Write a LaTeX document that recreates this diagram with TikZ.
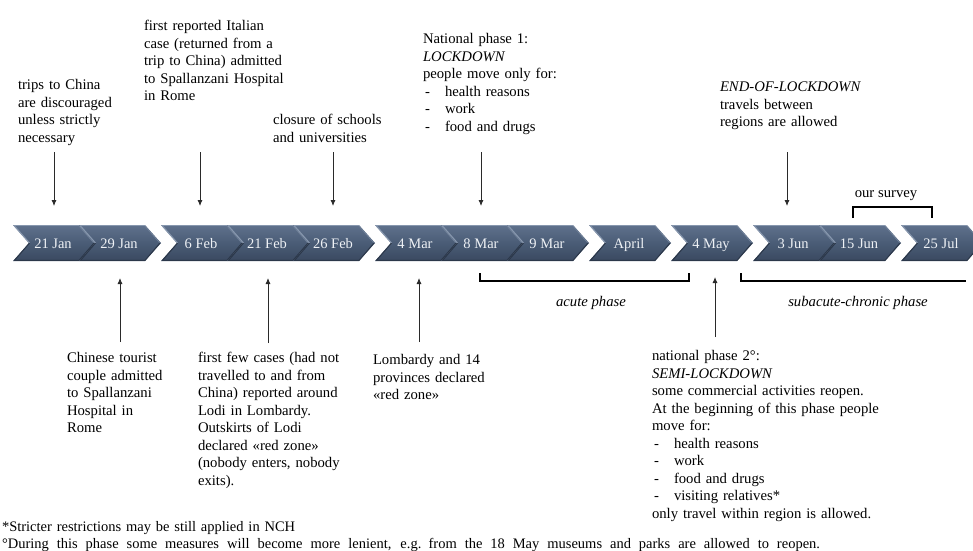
\documentclass[tikz,border=0pt]{standalone}
\usepackage{fontspec}
\setmainfont{Liberation Serif}
\usetikzlibrary{arrows.meta}
\definecolor{chevmid}{HTML}{4A5C76}
\definecolor{chevtop}{HTML}{5F718C}
\definecolor{chevbot}{HTML}{3A4960}
\definecolor{chevlight}{HTML}{8797AE}
\definecolor{chevdark}{HTML}{2C384A}
\definecolor{chevtxt}{HTML}{EEF1F5}
\definecolor{arrowgray}{HTML}{2A2A2A}
\newcommand{\dashitem}{\makebox[22pt][l]{\hspace{2pt}-}}
\newcommand{\mychev}[3]{%
  \path[top color=chevtop, bottom color=chevbot, middle color=chevmid]
    (#1,225) -- (#1+66,225) -- (#1+82,243) -- (#1+66,261) -- (#1,261) -- (#1+16,243) -- cycle;
  \draw[chevlight, line width=1pt] (#1+1,225.6) -- (#1+66,225.6);
  \draw[chevlight, line width=1.1pt] (#1+1.5,226) -- (#1+16.5,243);
  \draw[chevdark, line width=1pt] (#1+16.5,243) -- (#1+1.5,260.4);
  \draw[chevdark, line width=1pt] (#1+81,243) -- (#1+66,260.4) -- (#1+1,260.4);
  \draw[chevlight!60!chevmid, line width=0.8pt] (#1+66,226) -- (#1+80.5,242.5);
  \node[chevlabel] (#3) at (#1+40,248) {#2};
}
\tikzset{
  lbl/.style={anchor=base west, inner sep=0pt, outer sep=0pt, text width=#1, align=left,
    font=\fontsize{14.7}{17.5}\selectfont},
  lbl/.default=320pt,
  chevlabel/.style={anchor=base, inner sep=0pt, text=chevtxt, font=\fontsize{14.5}{17}\selectfont},
  midlbl/.style={anchor=base, inner sep=0pt, font=\fontsize{14.7}{17.5}\selectfont\itshape},
  arr/.style={draw=arrowgray, line width=0.8pt, -{Latex[length=6pt,width=5pt]}},
  brk/.style={draw=black, line width=1.1pt},
}
\begin{document}
\begin{tikzpicture}[x=1pt,y=-1pt]
\useasboundingbox (0,0) rectangle (973,550);
\fill[white] (0,0) rectangle (973,550);
\begin{scope}
\clip (0,0) rectangle (973,550);
\mychev{13}{21 Jan}{c1}
\mychev{79}{29 Jan}{c2}
\mychev{161}{6 Feb}{c3}
\mychev{227}{21 Feb}{c4}
\mychev{293}{26 Feb}{c5}
\mychev{375}{4 Mar}{c6}
\mychev{441}{8 Mar}{c7}
\mychev{507}{9 Mar}{c8}
\mychev{589}{April}{c9}
\mychev{671}{4 May}{c10}
\mychev{753}{3 Jun}{c11}
\mychev{819}{15 Jun}{c12}
\mychev{901}{25 Jul}{c13}
\end{scope}

% top texts
\node[lbl] (t1) at (18,89.5) {trips to China\\are discouraged\\unless strictly\\necessary};
\node[lbl] (t2) at (144,30.5) {first reported Italian\\case (returned from a\\trip to China) admitted\\to Spallanzani Hospital\\in Rome};
\node[lbl] (t3) at (273,124.5) {closure of schools\\and universities};
\node[lbl] (t4) at (423,43.5) {National phase 1:\\\textit{LOCKDOWN}\\people move only for:\\\dashitem health reasons\\\dashitem work\\\dashitem food and drugs};
\node[lbl=240pt] (t5) at (720,91.5) {\textit{END-OF-LOCKDOWN}\\travels between\\regions are allowed};
\node[anchor=base, inner sep=0pt, font=\fontsize{14.7}{17.5}\selectfont] (srv) at (886,197.5) {our survey};

% bottom texts
\node[lbl] (b1) at (67,362.5) {Chinese tourist\\couple admitted\\to Spallanzani\\Hospital in\\Rome};
\node[lbl] (b2) at (198,362.5) {first few cases (had not\\travelled to and from\\China) reported around\\Lodi in Lombardy.\\Outskirts of Lodi\\declared «red zone»\\(nobody enters, nobody\\exits).};
\node[lbl] (b3) at (373,364.5) {Lombardy and 14\\provinces declared\\«red zone»};
\node[lbl] (b4) at (652,360.5) {national phase 2°:\\\textit{SEMI-LOCKDOWN}\\some commercial activities reopen.\\At the beginning of this phase people\\move for:\\\dashitem health reasons\\\dashitem work\\\dashitem food and drugs\\\dashitem visiting relatives*\\only travel within region is allowed.};
\node[midlbl] (acute) at (591,306.5) {acute phase};
\node[midlbl] (subac) at (858,306.5) {subacute-chronic phase};
\node[lbl=965pt, font=\fontsize{14.5}{17}\selectfont] (fn) at (2,531.5) {*Stricter restrictions may be still applied in NCH\\\hbox to 818pt{\spaceskip=3.6pt plus 1fil\relax °During this phase some measures will become more lenient, e.g. from the 18 May museums and parks are allowed to reopen.}};

% arrow coordinates
\coordinate (d1a) at (54,152);  \coordinate (d1b) at (54,206);
\coordinate (d2a) at (200,152); \coordinate (d2b) at (200,206);
\coordinate (d3a) at (333,152); \coordinate (d3b) at (333,206);
\coordinate (d4a) at (481,152); \coordinate (d4b) at (481,206);
\coordinate (d5a) at (787,152); \coordinate (d5b) at (787,206);
\coordinate (u1a) at (120,342); \coordinate (u1b) at (120,278);
\coordinate (u2a) at (268,343); \coordinate (u2b) at (268,278);
\coordinate (u3a) at (419,342); \coordinate (u3b) at (419,278);
\coordinate (u4a) at (715,337); \coordinate (u4b) at (715,277);
\foreach \n in {d1,d2,d3,d4,d5,u1,u2,u3,u4} {\draw[arr] (\n a) -- (\n b);}

% brackets
\coordinate (s1) at (853,218); \coordinate (s2) at (853,207); \coordinate (s3) at (932,207); \coordinate (s4) at (932,218);
\draw[brk] (s1) -- (s2) -- (s3) -- (s4);
\coordinate (a1) at (480,273); \coordinate (a2) at (480,281); \coordinate (a3) at (689,281); \coordinate (a4) at (689,273);
\draw[brk] (a1) -- (a2) -- (a3) -- (a4);
\coordinate (p1) at (741,273); \coordinate (p2) at (741,281); \coordinate (p3) at (966,281);
\draw[brk] (p1) -- (p2) -- (p3);
\end{tikzpicture}
\end{document}
